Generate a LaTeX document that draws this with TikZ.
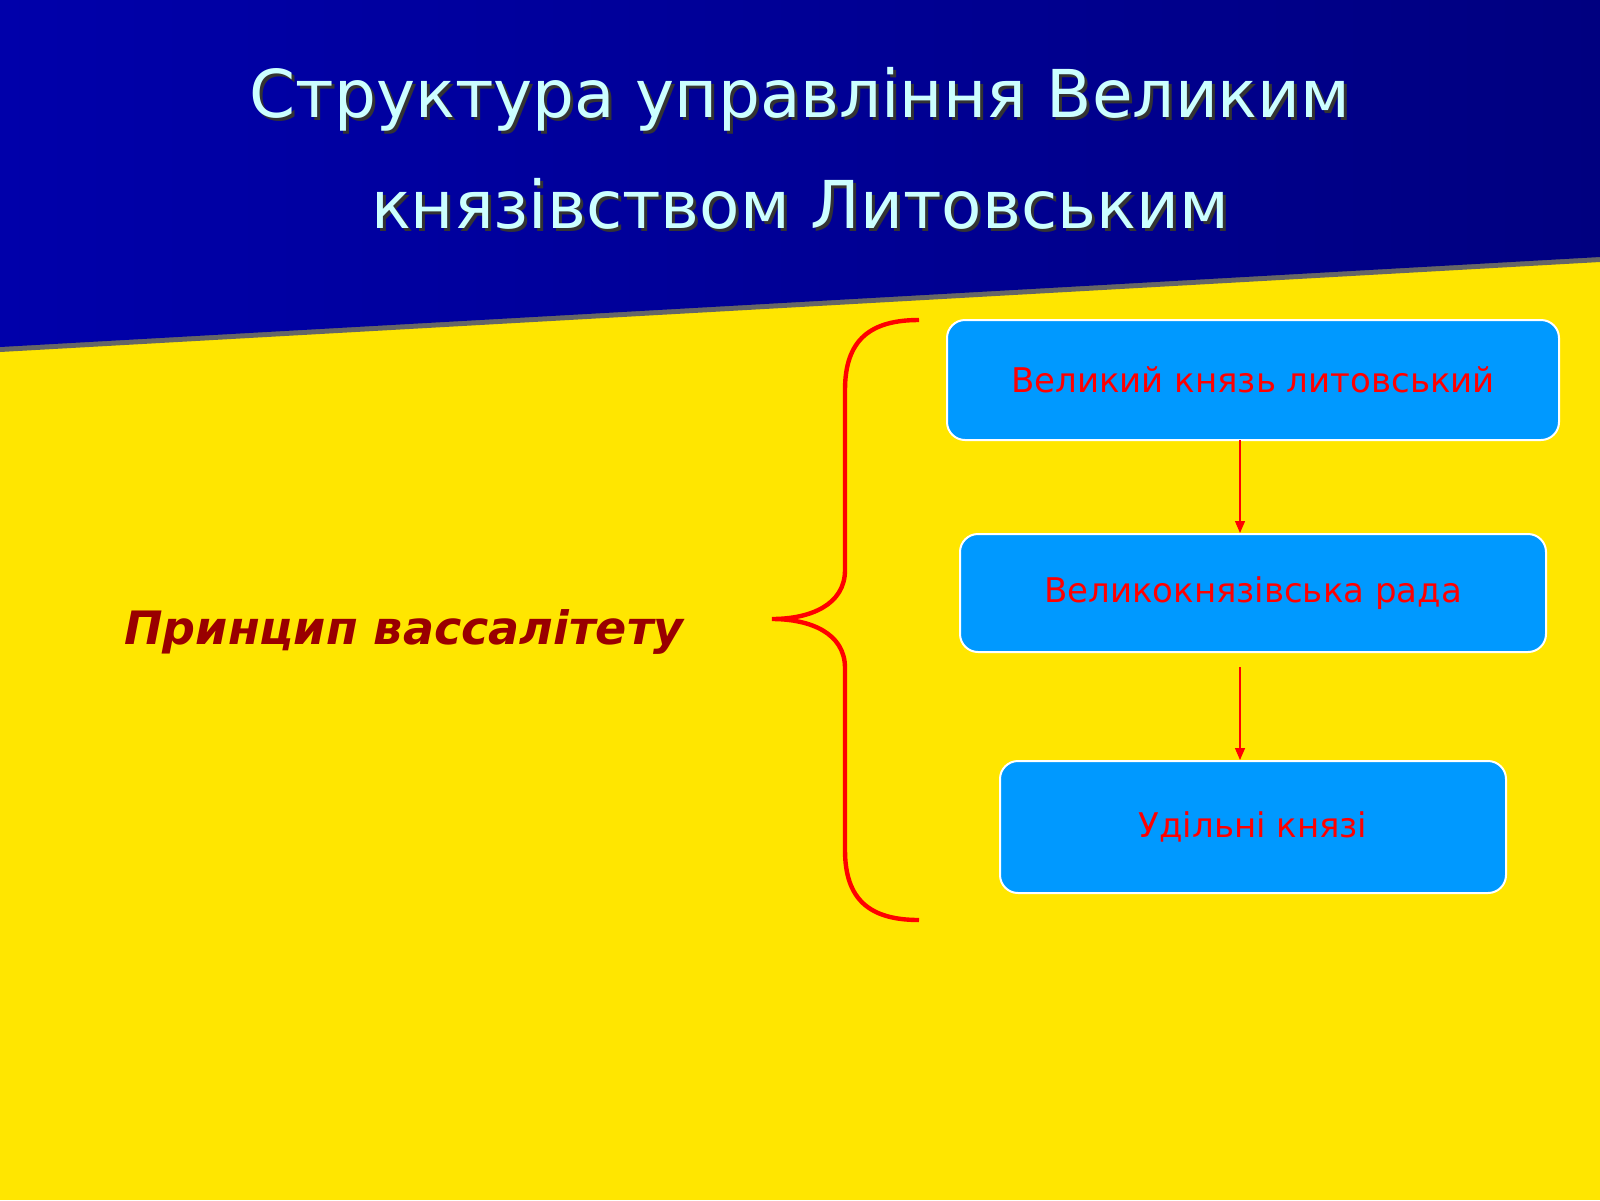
\documentclass[tikz,border=0pt]{standalone}
\usepackage{fontspec}
\setmainfont{DejaVu Sans}
\usetikzlibrary{arrows.meta}
\definecolor{ttl}{HTML}{CCFFFF}
\definecolor{boxc}{HTML}{0099FF}
\definecolor{dred}{HTML}{990000}
\tikzset{
  box/.style={draw=white,line width=1pt,fill=boxc,rounded corners=9pt,text=red,font=\fontsize{17}{20}\selectfont},
  arr/.style={draw=red,line width=0.7pt,-{Triangle[length=6pt,width=5pt]}},
  ttltext/.style={text=ttl,font=\fontsize{33}{40}\selectfont}
}
\begin{document}
\begin{tikzpicture}[x=0.5pt,y=-0.5pt]
\useasboundingbox (0,0) rectangle (1600,1200);
\fill[yellow!100!red!0, fill={rgb,255:red,255;green,230;blue,0}] (0,0) rectangle (1600,1200);
\fill[black!60] (0,333) -- (1600,243) -- (1600,262) -- (0,352) -- cycle;
\shade[left color={rgb,255:red,0;green,0;blue,170}, right color={rgb,255:red,0;green,0;blue,128}] (0,0) -- (1600,0) -- (1600,257) -- (0,347) -- cycle;
\node[ttltext,text=black!80] at (803,102) {Структура управління Великим};
\node[ttltext,text=black!80] at (803,207) {князівством Литовським};
\node[ttltext] (t1) at (800,99) {Структура управління Великим};
\node[ttltext] (t2) at (800,204) {князівством Литовським};
\node[box,minimum width=612\pgflinewidth*0+306pt,minimum height=60pt] (b1) at (1253,380) {Великий князь литовський};
\node[box,minimum width=293pt,minimum height=59pt] (b2) at (1253,593) {Великокнязівська рада};
\node[box,minimum width=253pt,minimum height=66pt] (b3) at (1253,827) {Удільні князі};
\coordinate (a1) at (1240,440);
\coordinate (a2) at (1240,533);
\coordinate (a3) at (1240,667);
\coordinate (a4) at (1240,760);
\draw[arr] (a1) -- (a2);
\draw[arr] (a3) -- (a4);
\coordinate (bt) at (919,320);
\coordinate (bb) at (919,920);
\coordinate (tip) at (772,619);
\draw[red,line width=2.2pt] (bt) .. controls (870,320) and (845,340) .. (845,390) -- (845,570) .. controls (845,605) and (810,619) .. (tip) .. controls (810,619) and (845,633) .. (845,668) -- (845,850) .. controls (845,900) and (870,920) .. (bb);
\node[text=dred,font=\fontsize{23}{28}\selectfont\bfseries\itshape] (p) at (404,632) {Принцип вассалітету};
\end{tikzpicture}
\end{document}
